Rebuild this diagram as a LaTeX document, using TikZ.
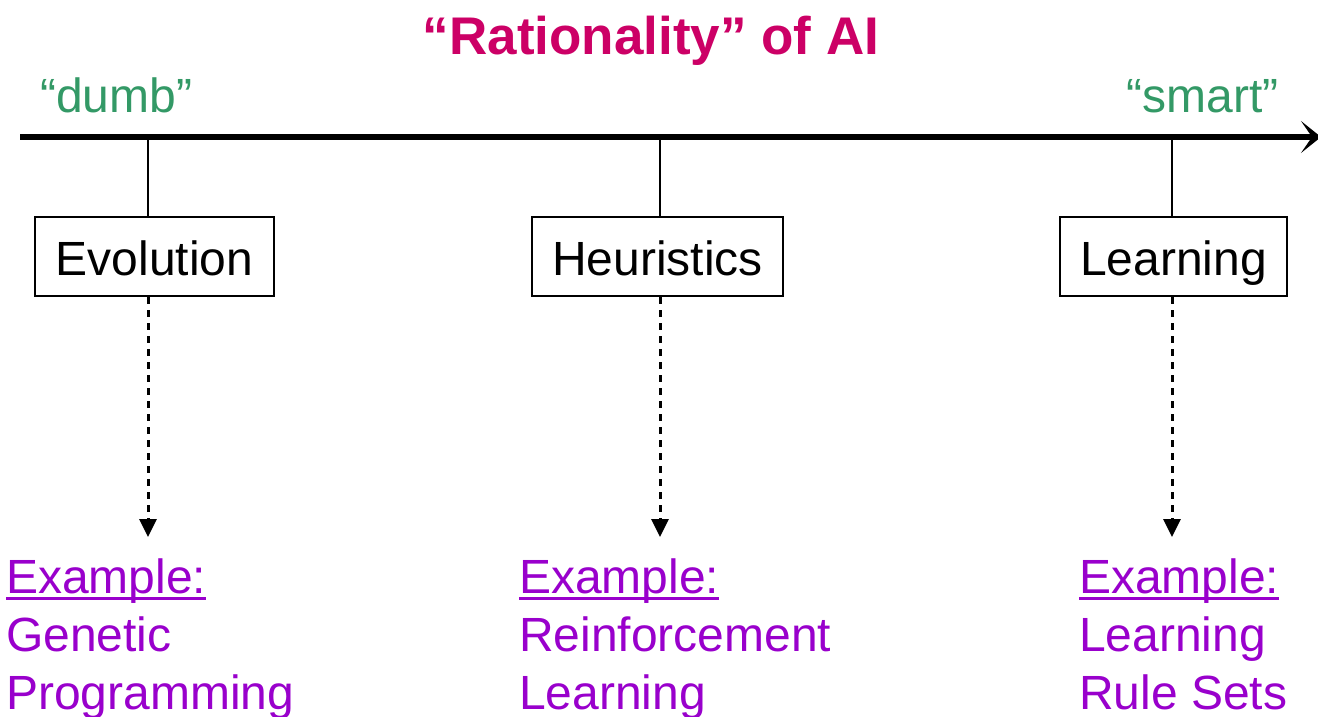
\documentclass[tikz,border=0pt]{standalone}
\usepackage{fontspec}
\setmainfont{Liberation Sans}
\usetikzlibrary{arrows.meta}
\definecolor{titlemag}{HTML}{CC0066}
\definecolor{endgreen}{HTML}{339966}
\definecolor{expurple}{HTML}{9900CC}
\newsavebox{\ulbox}
\newcommand{\myuline}[1]{\sbox{\ulbox}{#1}\rlap{\rule[-6.5pt]{\wd\ulbox}{3pt}}\usebox{\ulbox}}
\begin{document}
\begin{tikzpicture}[x=1pt,y=-1pt,
  catbox/.style={draw=black,line width=2pt,inner sep=0pt,minimum height=79pt,
    text height=40pt,text depth=3pt,
    font=\fontsize{48}{58}\selectfont},
  ticks/.style={line width=2pt},
  exarrow/.style={line width=3pt,dash pattern=on 7pt off 6pt,
    -{Triangle[length=18pt,width=17pt]}},
  extext/.style={anchor=base west,inner sep=0pt,text=expurple,
    font=\fontsize{48}{58}\selectfont},
  endlabel/.style={anchor=base west,inner sep=0pt,text=endgreen,
    font=\fontsize{48}{58}\selectfont}]
\useasboundingbox (0,0) rectangle (1318,717);
\fill[white] (0,0) rectangle (1318,717);

% title
\node[anchor=base,inner sep=0pt,text=titlemag,font=\fontsize{53}{60}\selectfont\bfseries]
  (title) at (651,55) {“Rationality” of AI};

% end labels
\node[endlabel] (dumb) at (40,113) {“dumb”};
\node[endlabel,anchor=base east] (smart) at (1279,113) {“smart”};

% axis
\coordinate (axL) at (20,137);
\coordinate (axR) at (1321,137);
\draw[line width=5.5pt,-{Stealth[length=20pt,width=32pt,inset=11pt]}] (axL) -- (axR);

% category boxes
\node[catbox,minimum width=239pt] (evo) at (154.5,256.5) {Evolution};
\node[catbox,minimum width=251pt] (heu) at (657.5,256.5) {Heuristics};
\node[catbox,minimum width=227pt] (lea) at (1173.5,256.5) {Learning};

% ticks
\coordinate (t1) at (148,137);
\coordinate (t2) at (660,137);
\coordinate (t3) at (1172,137);
\draw[ticks] (t1) -- (t1 |- evo.north);
\draw[ticks] (t2) -- (t2 |- heu.north);
\draw[ticks] (t3) -- (t3 |- lea.north);

% dashed arrows
\coordinate (a1) at (148,537);
\coordinate (a2) at (660,537);
\coordinate (a3) at (1172,537);
\draw[exarrow] (a1 |- evo.south) -- (a1);
\draw[exarrow] (a2 |- heu.south) -- (a2);
\draw[exarrow] (a3 |- lea.south) -- (a3);

% examples
\node[extext] (e1) at (6,593) {\myuline{Example:}};
\node[extext] (e1b) at (6,651) {Genetic};
\node[extext] (e1c) at (6,709) {Programming};

\node[extext] (e2) at (519,593) {\myuline{Example:}};
\node[extext] (e2b) at (519,651) {Reinforcement};
\node[extext] (e2c) at (519,709) {Learning};

\node[extext] (e3) at (1079,593) {\myuline{Example:}};
\node[extext] (e3b) at (1079,651) {Learning};
\node[extext] (e3c) at (1079,709) {Rule Sets};
\end{tikzpicture}
\end{document}
